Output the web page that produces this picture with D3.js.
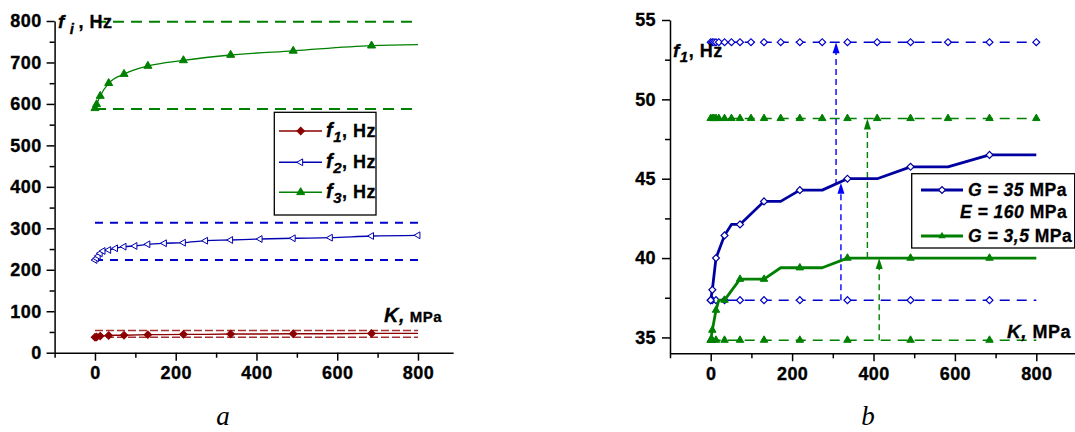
<!DOCTYPE html>
<html><head><meta charset="utf-8">
<script src="https://cdn.jsdelivr.net/npm/d3@7"></script>
<style>
body{margin:0;background:#fff;}
svg{display:block;font-family:"Liberation Sans",Arial,sans-serif;font-weight:bold;}
</style></head><body>
<svg id="c" width="1075" height="432"></svg>
<script>
// ---------- DATA ----------
const kFull = [0,4,8,13,20,34,51,72,99,131,172,219,274,336,409,491,583,685,800];
const kSub  = [0,4,13,34,72,131,219,336,491,685];
// chart a
const kF1 = [0,4,13,34,51,72,131,172,219,274,336,409,491,583,685,800];
const f1  = [37.35,38.0,40.0,41.43,42.12,42.12,43.57,43.57,44.28,44.28,45.0,45.0,45.75,45.75,46.5,46.5];
const f1Bounds = [37.35, 53.6];
const f2  = [223.6,227.7,233.2,239.7,245.3,247.7,251.8,255.7,257.4,261.5,264,265.3,270.1,271.8,274.2,276,277.4,281.5,283.2];
const f2Bounds = [223.6, 313.6];
const kF3 = [0,4,13,34,72,131,219,336,491,685,800];
const f3  = [589.5,599,619,650,672,691.5,705,718,728,740.5,743];
const f3Bounds = [588, 798];
// chart b
const kG35 = [0,4,13,34,51,72,131,172,219,274,336,409,491,583,685,800];
const g35  = [37.35,38.0,40.0,41.43,42.12,42.12,43.57,43.57,44.28,44.28,45.0,45.0,45.75,45.75,46.5,46.5];
const kG3  = [0,4,13,20,34,72,131,172,219,274,336,409,491,583,685,800];
const g3   = [34.83,35.46,36.72,37.35,37.35,38.67,38.67,39.39,39.39,39.39,40,40,40,40,40,40];
const g35Bounds = [37.35, 53.6];
const g3Bounds  = [34.83, 48.8];
const arrowsBlue  = [[320,37.35,44.75],[308,44.6,53.6]];
const arrowsGreen = [[385,40,48.8],[414,34.83,40]];
// ticks
const xMajor = [0,200,400,600,800];
const xMinorA = [-100,100,300,500,700];
const xMinorB = [-100,100,300,500,700,900];
const yMajorA = [0,100,200,300,400,500,600,700,800];
const yMinorA = [50,150,250,350,450,550,650,750];
const yMajorB = [35,40,45,50,55];
const yMinorB = [37.5,42.5,47.5,52.5];

// ---------- COLORS ----------
const RED="#8b0000", RED_D="#a83030", BLUE="#0000b0", BLUE_D="#0000cc", BLUE_A="#0000ff", GREEN="#008000";

const svg = d3.select("#c");

// scales
const xA = d3.scaleLinear().domain([-100, 887]).range([54.6, 453.1]);
const yA = d3.scaleLinear().domain([0, 800]).range([352.7, 21]);
const xB = d3.scaleLinear().domain([-100, 900]).range([670, 1077]);
const yB = d3.scaleLinear().domain([34, 55]).range([353.3, 20]);

function axes(g, x, y, yMaj, yMin, xMin, yPad) {
  g.append("g").attr("transform", `translate(0,${y.range()[0]})`)
    .call(d3.axisBottom(x).tickValues(xMajor).tickSize(8).tickSizeOuter(0).tickPadding(6));
  g.append("g").attr("transform", `translate(0,${y.range()[0]})`)
    .call(d3.axisBottom(x).tickValues(xMin).tickSize(5).tickSizeOuter(0).tickFormat(""))
    .select(".domain").remove();
  g.append("g").attr("transform", `translate(${x.range()[0]},0)`)
    .call(d3.axisLeft(y).tickValues(yMaj).tickSize(8).tickSizeOuter(0).tickPadding(yPad));
  g.append("g").attr("transform", `translate(${x.range()[0]},0)`)
    .call(d3.axisLeft(y).tickValues(yMin).tickSize(5).tickSizeOuter(0).tickFormat(""))
    .select(".domain").remove();
  g.selectAll(".domain, .tick line").attr("stroke","#000").attr("stroke-width",1.5);
  g.selectAll(".tick text").attr("font-size",18).attr("font-weight","bold")
    .attr("font-family","Liberation Sans, Arial, sans-serif").attr("fill","#000")
    .attr("stroke","#000").attr("stroke-width",0.35)
    .attr("letter-spacing","0.4px");
}

function rich(g, x, y, parts, anchor) {
  const t = g.append("text").attr("x", x).attr("y", y).attr("fill","#000")
    .attr("stroke","#000").attr("stroke-width",0.3)
    .attr("font-weight","bold").attr("text-anchor", anchor || "start").attr("letter-spacing","0.5px");
  parts.forEach(p => {
    const ts = t.append("tspan").text(p.t).attr("font-size", p.s || 17);
    if (p.i) ts.attr("font-style","italic");
    if (p.dy) ts.attr("dy", p.dy);
    if (p.dx) ts.attr("dx", p.dx);
  });
  return t;
}

const diamond = d3.symbol().type(d3.symbolSquare);
const tri = d3.symbol().type(d3.symbolTriangle);

function markers(g, xs, ys, x, y, opt) {
  g.selectAll(null).data(xs.map((k,i)=>[k, ys[i]]).filter(d => !opt.only || opt.only.includes(d[0])))
    .join("path")
    .attr("d", (opt.type === "tri" ? tri : diamond).size(opt.size)())
    .attr("transform", d => `translate(${x(d[0])},${y(d[1])}) rotate(${opt.rot||0})`)
    .attr("fill", opt.fill).attr("stroke", opt.stroke).attr("stroke-width", opt.sw || 1);
}

// ================= CHART A =================
const gA = svg.append("g");
axes(gA, xA, yA, yMajorA, yMinorA, xMinorA, 5);

function hline(g, x, y, v, color, w, dash) {
  g.append("path").attr("d", d3.line()([[x(0), y(v)], [x(800), y(v)]]))
    .attr("stroke", color).attr("stroke-width", w).attr("stroke-dasharray", dash).attr("fill","none");
}
f1Bounds.forEach(v => hline(gA, xA, yA, v, RED_D, 1.5, "8,3"));
f2Bounds.forEach(v => hline(gA, xA, yA, v, BLUE_D, 2, "8,7"));
f3Bounds.forEach(v => hline(gA, xA, yA, v, GREEN, 2, "11,7"));

const lineA = d3.line().x(d=>xA(d[0])).y(d=>yA(d[1]));
gA.append("path").attr("d", lineA(kF1.map((k,i)=>[k,f1[i]]))).attr("fill","none").attr("stroke",RED).attr("stroke-width",1.4);
markers(gA, kF1, f1, xA, yA, {only:kSub, size:28, rot:45, fill:RED, stroke:RED});
gA.append("path").attr("d", lineA.curve(d3.curveMonotoneX)(kFull.map((k,i)=>[k,f2[i]]))).attr("fill","none").attr("stroke",BLUE).attr("stroke-width",1.3);
markers(gA, kFull, f2, xA, yA, {type:"tri", size:20, rot:-90, fill:"#fff", stroke:BLUE, sw:1});
gA.append("path").attr("d", lineA.curve(d3.curveMonotoneX)(kF3.map((k,i)=>[k,f3[i]]))).attr("fill","none").attr("stroke",GREEN).attr("stroke-width",1.3);
markers(gA, kF3, f3, xA, yA, {only:kSub, type:"tri", size:28, fill:GREEN, stroke:GREEN});

rich(gA, 58, 28, [{t:"f",i:1,s:19},{t:"i",i:1,s:15,dx:5,dy:6},{t:", Hz",s:18,dx:4,dy:-6}]);
rich(gA, 384, 322, [{t:"K,",i:1,s:20},{t:" MPa",s:15}]);

const legA = gA.append("g");
legA.append("rect").attr("x",274.3).attr("y",112.3).attr("width",101.7).attr("height",102.7)
  .attr("fill","#fff").attr("stroke","#000").attr("stroke-width",1.3);
const legItemsA = [
  {sub:"1", color:RED, y:131, mk:{size:28, rot:45, fill:RED, stroke:RED}},
  {sub:"2", color:BLUE, y:162.3, mk:{type:"tri", size:20, rot:-90, fill:"#fff", stroke:BLUE}},
  {sub:"3", color:GREEN, y:192.3, mk:{type:"tri", size:28, fill:GREEN, stroke:GREEN}}
];
legItemsA.forEach(it => {
  legA.append("line").attr("x1",279).attr("x2",322).attr("y1",it.y).attr("y2",it.y).attr("stroke",it.color).attr("stroke-width",1.4);
  legA.append("path").attr("d",(it.mk.type==="tri"?tri:diamond).size(it.mk.size)())
    .attr("transform",`translate(300.7,${it.y}) rotate(${it.mk.rot||0})`).attr("fill",it.mk.fill).attr("stroke",it.mk.stroke);
  rich(legA, 326, it.y+6, [{t:"f",i:1,s:20},{t:it.sub,i:1,s:15,dy:5},{t:", Hz",s:18,dy:-5}]);
});

svg.append("text").attr("x",223).attr("y",425).attr("text-anchor","middle")
  .attr("font-family","Liberation Serif, Times New Roman, serif").attr("font-style","italic")
  .attr("font-weight","normal").attr("font-size",27).text("a");

// ================= CHART B =================
const gB = svg.append("g");
axes(gB, xB, yB, yMajorB, yMinorB, xMinorB, 6);

function hlineB(v, color) {
  gB.append("path").attr("d", d3.line()([[xB(0), yB(v)], [xB(800), yB(v)]]))
    .attr("stroke", color).attr("stroke-width", 1.5).attr("stroke-dasharray","10,7").attr("fill","none");
}
hlineB(g35Bounds[0], BLUE_D); hlineB(g35Bounds[1], BLUE_D);
hlineB(g3Bounds[0], GREEN); hlineB(g3Bounds[1], GREEN);

function arrow(k, v0, v1, color) {
  const x = xB(k), y0 = yB(v0), y1 = yB(v1);
  gB.append("path").attr("d", d3.line()([[x,y0],[x,y1+10]])).attr("stroke",color)
    .attr("stroke-width",1.4).attr("stroke-dasharray","6,4").attr("fill","none");
  gB.append("path").attr("d", d3.line()([[x,y1],[x-3.5,y1+11],[x+3.5,y1+11]]) + "Z").attr("fill",color);
}
arrowsBlue.forEach(a => arrow(a[0],a[1],a[2],BLUE_A));
arrowsGreen.forEach(a => arrow(a[0],a[1],a[2],GREEN));

const g35BoundsLo = kSub.map(()=>g35Bounds[0]);
const g35BoundsHi = kFull.map(()=>g35Bounds[1]);
const g3BoundsLo = kSub.map(()=>g3Bounds[0]);
const g3BoundsHi = kFull.map(()=>g3Bounds[1]);
const dmB = {size:24, rot:45, fill:"#fff", stroke:BLUE_D, sw:1.2};
const trB = {type:"tri", size:24, fill:GREEN, stroke:GREEN};
markers(gB, kFull, g35BoundsHi, xB, yB, dmB);
markers(gB, kSub, g35BoundsLo, xB, yB, dmB);
markers(gB, kFull, g3BoundsHi, xB, yB, trB);
markers(gB, kSub, g3BoundsLo, xB, yB, trB);

const lineB = d3.line().x(d=>xB(d[0])).y(d=>yB(d[1]));
gB.append("path").attr("d", lineB(kG3.map((k,i)=>[k,g3[i]]))).attr("fill","none").attr("stroke",GREEN).attr("stroke-width",2.8).attr("stroke-linejoin","round");
markers(gB, kG3, g3, xB, yB, Object.assign({only:kSub}, trB));
gB.append("path").attr("d", lineB(kG35.map((k,i)=>[k,g35[i]]))).attr("fill","none").attr("stroke","#0000a0").attr("stroke-width",2.8).attr("stroke-linejoin","round");
markers(gB, kG35, g35, xB, yB, Object.assign({only:kSub}, dmB, {stroke:"#0000a0"}));

rich(gB, 673, 57, [{t:"f",i:1,s:19},{t:"1",i:1,s:15,dy:5},{t:", Hz",s:18,dy:-5}]);
rich(gB, 1007, 338, [{t:"K,",i:1,s:19},{t:" MPa",s:18}]);

const legB = gB.append("g");
legB.append("rect").attr("x",911.7).attr("y",173.7).attr("width",163).attr("height",74.3)
  .attr("fill","#fff").attr("stroke","#000").attr("stroke-width",1.3);
legB.append("line").attr("x1",921).attr("x2",963).attr("y1",190).attr("y2",190).attr("stroke","#0000a0").attr("stroke-width",2.8);
legB.append("path").attr("d",diamond.size(24)()).attr("transform","translate(942,190) rotate(45)").attr("fill","#fff").attr("stroke","#0000a0").attr("stroke-width",1.2);
legB.append("line").attr("x1",921).attr("x2",963).attr("y1",236).attr("y2",236).attr("stroke",GREEN).attr("stroke-width",2.8);
legB.append("path").attr("d",tri.size(24)()).attr("transform","translate(942,236)").attr("fill",GREEN);
rich(legB, 968, 196, [{t:"G = 35",i:1,s:17.5},{t:" MPa",s:17.5}]);
rich(legB, 960, 218, [{t:"E = 160",i:1,s:17.5},{t:" MPa",s:17.5}]);
rich(legB, 968, 242, [{t:"G = 3,5",i:1,s:17.5},{t:" MPa",s:17.5}]);

svg.append("text").attr("x",868).attr("y",425).attr("text-anchor","middle")
  .attr("font-family","Liberation Serif, Times New Roman, serif").attr("font-style","italic")
  .attr("font-weight","normal").attr("font-size",27).text("b");
</script>
</body></html>
